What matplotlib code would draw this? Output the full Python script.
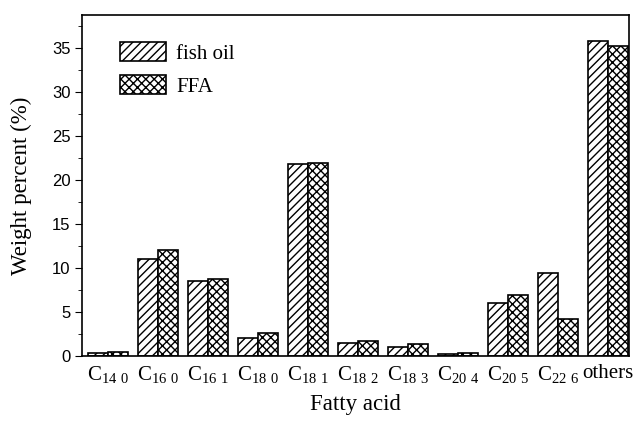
import matplotlib
matplotlib.use("Agg")
import matplotlib.pyplot as plt
import numpy as np
from matplotlib.ticker import MultipleLocator

categories = ["14\\ 0", "16\\ 0", "16\\ 1", "18\\ 0", "18\\ 1", "18\\ 2",
              "18\\ 3", "20\\ 4", "20\\ 5", "22\\ 6"]
tick_labels = ["C$_{\\mathregular{%s}}$" % c for c in categories] + ["others"]
fish_oil = [0.35, 11.0, 8.5, 2.1, 21.8, 1.5, 1.05, 0.2, 6.05, 9.45, 35.8]
ffa = [0.5, 12.1, 8.75, 2.65, 21.9, 1.75, 1.35, 0.38, 7.0, 4.2, 35.2]
series_names = ["fish oil", "FFA"]

plt.rcParams['hatch.linewidth'] = 1.0
plt.rcParams['mathtext.fontset'] = 'custom'
plt.rcParams['mathtext.rm'] = 'Liberation Serif'

fig = plt.figure(figsize=(6.37, 4.25), dpi=100)
ax = fig.add_axes([0.129, 0.162, 0.858, 0.803])

x = np.arange(len(tick_labels))
w = 0.4
ax.bar(x - w/2, fish_oil, width=w, facecolor='white', edgecolor='black',
       hatch='////', linewidth=1.2, label=series_names[0])
ax.bar(x + w/2, ffa, width=w, facecolor='white', edgecolor='black',
       hatch='xxxx', linewidth=1.2, label=series_names[1])

ax.set_xlim(-0.52, 10.42)
ax.set_ylim(0, 38.75)
ax.set_xticks(x)
ax.set_xticklabels(tick_labels, fontsize=15, family='Liberation Serif')
ax.tick_params(axis='x', length=0, pad=6)
ax.yaxis.set_major_locator(MultipleLocator(5))
ax.yaxis.set_minor_locator(MultipleLocator(2.5))
ax.tick_params(axis='y', which='major', direction='out', length=5, labelsize=12)
ax.tick_params(axis='y', which='minor', direction='out', length=3)
for lab in ax.get_yticklabels():
    lab.set_family('Liberation Sans')

ax.set_xlabel("Fatty acid", fontsize=16.5, family='Liberation Serif', labelpad=6)
ax.set_ylabel("Weight percent (%)", fontsize=16.5, family='Liberation Serif', labelpad=14)

for s in ax.spines.values():
    s.set_linewidth(1.2)

leg = ax.legend(loc='upper left', frameon=False, prop={'family': 'Liberation Serif', 'size': 15},
                handlelength=2.2, handleheight=1.0, borderaxespad=0.5,
                handletextpad=0.5, bbox_to_anchor=(0.035, 0.975), labelspacing=0.55)

fig.savefig("out.png", dpi=100)
